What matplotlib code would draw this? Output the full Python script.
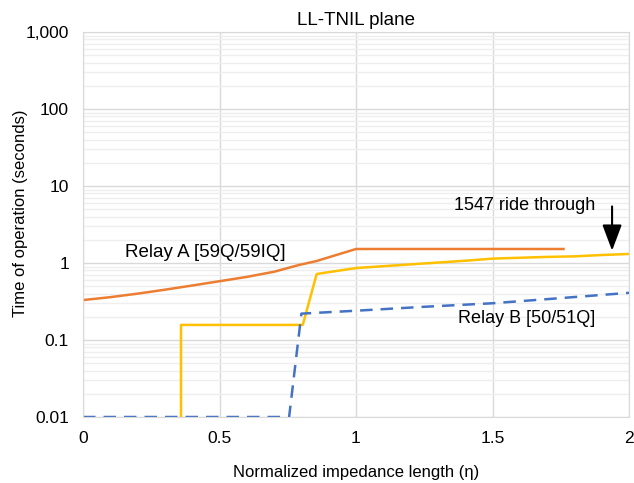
import matplotlib
matplotlib.use('Agg')
from matplotlib import pyplot as plt
from matplotlib.ticker import FixedLocator, LogLocator, NullFormatter

plt.rcParams['font.family'] = ['Liberation Sans', 'DejaVu Sans']

# Relay A [59Q/59IQ]
relay_a_x = [0, 0.1, 0.2, 0.3, 0.4, 0.5, 0.6, 0.7, 0.79, 0.855, 1.0, 1.25, 1.5, 1.76]
relay_a_y = [0.33, 0.36, 0.40, 0.45, 0.51, 0.58, 0.66, 0.77, 0.94, 1.06, 1.52, 1.52, 1.52, 1.52]

# 1547 ride through
ride_x = [0.359, 0.359, 0.805, 0.856, 1.0, 1.2, 1.4, 1.5, 1.6, 1.7, 1.8, 1.9, 2.0]
ride_y = [0.01, 0.157, 0.157, 0.72, 0.86, 0.96, 1.07, 1.14, 1.17, 1.2, 1.22, 1.27, 1.31]

# Relay B [50/51Q]
relay_b_x = [0, 0.755, 0.80, 1.0, 1.25, 1.5, 1.75, 2.0]
relay_b_y = [0.01, 0.01, 0.22, 0.24, 0.27, 0.30, 0.35, 0.41]

x_ticks = [0, 0.5, 1, 1.5, 2]
x_tick_labels = ['0', '0.5', '1', '1.5', '2']
y_ticks = [0.01, 0.1, 1, 10, 100, 1000]
y_tick_labels = ['0.01', '0.1', '1', '10', '100', '1,000']

fig = plt.figure(figsize=(6.34, 4.83), dpi=100)
ax = fig.add_axes([83 / 634, 1 - 417 / 483, (629 - 83) / 634, (417 - 32) / 483])

ax.plot(relay_a_x, relay_a_y, color='#ED7D31', lw=1.8)
ax.plot(ride_x, ride_y, color='#FFC000', lw=1.8)
ax.plot(relay_b_x, relay_b_y, color='#4472C4', lw=1.8, ls=(0, (5, 3.2)))

ax.set_yscale('log')
ax.set_xlim(0, 2)
ax.set_ylim(0.01, 1000)
ax.xaxis.set_major_locator(FixedLocator(x_ticks))
ax.set_xticklabels(x_tick_labels)
ax.yaxis.set_major_locator(FixedLocator(y_ticks))
ax.set_yticklabels(y_tick_labels)
ax.yaxis.set_minor_locator(LogLocator(base=10, subs=range(2, 10)))
ax.yaxis.set_minor_formatter(NullFormatter())
ax.tick_params(axis='both', which='both', length=0, labelsize=12.5, pad=10)
ax.grid(True, which='major', color='#d9d9d9', lw=1)
ax.grid(True, which='minor', axis='y', color='#eeeeee', lw=1)
for s in ax.spines.values():
    s.set_color('#d9d9d9')

ax.set_title('LL-TNIL plane', fontsize=13.5, pad=5)
ax.set_xlabel('Normalized impedance length (η)', fontsize=12, labelpad=14)
ax.set_ylabel('Time of operation (seconds)', fontsize=12)
ax.yaxis.set_label_coords(-0.1, 0.53)

ax.text(0.153, 1.36, 'Relay A [59Q/59IQ]', fontsize=13.5, ha='left', va='center')
ax.text(1.375, 0.19, 'Relay B [50/51Q]', fontsize=13, ha='left', va='center')
ax.text(1.36, 5.6, '1547 ride through', fontsize=13, ha='left', va='center')
ax.annotate('', xy=(1.938, 1.33), xytext=(1.938, 5.9),
            arrowprops=dict(arrowstyle='-|>,head_length=0.8,head_width=0.3',
                            color='black', lw=1.5, mutation_scale=20))

fig.savefig('out.png', dpi=100)
